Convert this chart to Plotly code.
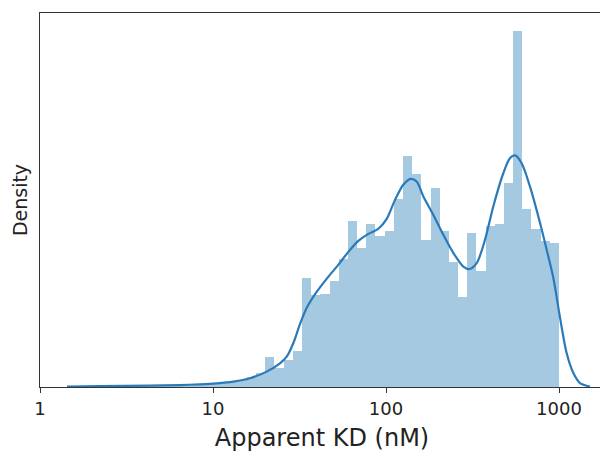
import numpy as np
import plotly.graph_objects as go

# Histogram (log10 of apparent KD, 50 equal-width bins) - density values
bin_log_min = 0.347
bin_log_max = 3.0
hist_density = [
    0.004, 0.002, 0.002, 0.002, 0.004, 0.004, 0.004, 0.004, 0.006, 0.006,
    0.008, 0.008, 0.012, 0.016, 0.020, 0.029, 0.041, 0.057, 0.123, 0.078,
    0.111, 0.147, 0.447, 0.377, 0.381, 0.434, 0.524, 0.680, 0.569, 0.668,
    0.619, 0.639, 0.770, 0.946, 0.873, 0.602, 0.815, 0.639, 0.512, 0.369,
    0.631, 0.475, 0.660, 0.668, 0.836, 1.458, 0.729, 0.647, 0.598, 0.590,
]

# KDE curve samples (log10 KD, density)
kde_x = [0.156, 0.347, 0.636, 0.809, 0.925, 1.021, 1.117, 1.214, 1.310, 1.387,
         1.426, 1.464, 1.503, 1.542, 1.599, 1.666, 1.724, 1.782, 1.840, 1.898,
         1.955, 2.004, 2.052, 2.100, 2.143, 2.177, 2.216, 2.273, 2.331, 2.389,
         2.447, 2.482, 2.524, 2.572, 2.620, 2.678, 2.717, 2.746, 2.784, 2.832,
         2.890, 2.929, 2.967, 3.006, 3.044, 3.083, 3.121, 3.179]
kde_y = [0.002, 0.004, 0.006, 0.008, 0.011, 0.015, 0.022, 0.036, 0.063, 0.097,
         0.124, 0.179, 0.258, 0.324, 0.389, 0.451, 0.500, 0.553, 0.598, 0.627,
         0.647, 0.688, 0.766, 0.828, 0.852, 0.841, 0.780, 0.705, 0.623, 0.549,
         0.493, 0.483, 0.507, 0.602, 0.739, 0.875, 0.937, 0.948, 0.916, 0.821,
         0.672, 0.561, 0.447, 0.283, 0.139, 0.057, 0.016, 0.002]

tick_vals = [0, 1, 2, 3]
tick_text = ["1", "10", "100", "1000"]

edges = np.linspace(bin_log_min, bin_log_max, len(hist_density) + 1)
centers = (edges[:-1] + edges[1:]) / 2
width = edges[1] - edges[0]

fig = go.Figure()
fig.add_trace(go.Bar(
    x=centers, y=hist_density, width=width,
    marker=dict(color="#1f77b4", opacity=0.4, line=dict(width=0)),
    hoverinfo="skip", showlegend=False,
))
fig.add_trace(go.Scatter(
    x=kde_x, y=kde_y, mode="lines",
    line=dict(color="#2a7ab9", width=2.2, shape="spline", smoothing=0.8),
    showlegend=False,
))

# page body has an 8px margin, so the figure is 8px smaller on each axis
fig.update_layout(
    width=600, height=445,
    margin=dict(l=32, r=4, t=5, b=66, autoexpand=False),
    plot_bgcolor="white", paper_bgcolor="white",
    bargap=0,
    font=dict(family="DejaVu Sans", color="#222222"),
)
fig.update_xaxes(
    range=[0, 3.26], tickvals=tick_vals, ticktext=tick_text,
    ticks="outside", ticklen=5, tickcolor="#333333",
    tickfont=dict(size=18), showgrid=False, zeroline=False,
    showline=True, linecolor="#333333", linewidth=1, mirror=True,
    title=dict(text="Apparent KD (nM)", font=dict(size=24), standoff=11),
)
fig.update_yaxes(
    range=[0, 1.531], showticklabels=False, ticks="",
    showgrid=False, zeroline=False,
    showline=True, linecolor="#333333", linewidth=1, mirror=True,
    title=dict(text="Density", font=dict(size=19), standoff=6),
)

fig.write_html("out.html")
